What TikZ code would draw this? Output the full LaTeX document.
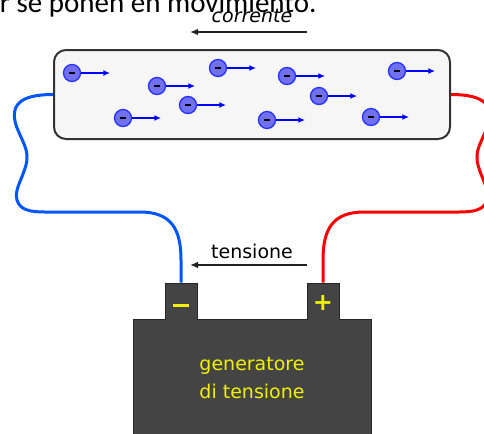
\documentclass[tikz,border=0pt]{standalone}
\usepackage{fontspec}
\setmainfont{DejaVu Sans}
\newfontfamily\calibri{Carlito}
\usetikzlibrary{arrows.meta}

\definecolor{wireblue}{RGB}{0,85,255}
\definecolor{wirered}{RGB}{255,0,0}
\definecolor{efill}{RGB}{112,112,240}
\definecolor{eedge}{RGB}{40,50,255}
\definecolor{drift}{RGB}{0,0,255}
\definecolor{boxedge}{RGB}{51,51,51}
\definecolor{boxfill}{RGB}{246,246,246}
\definecolor{genbody}{RGB}{68,68,68}
\definecolor{gentext}{RGB}{240,240,10}
\definecolor{flow}{RGB}{34,34,34}

\tikzset{every picture/.style={line width=0.75pt},
  electron/.style={circle, draw=eedge, fill=efill, line width=1pt, minimum size=12.75pt, inner sep=0pt},
  driftarrow/.style={drift, line width=1pt, -{Latex[length=5pt,width=4.5pt]}},
  flowarrow/.style={flow, line width=1.1pt, -{Latex[length=6pt,width=5pt]}},
  wire/.style={line width=2.25pt},
  terminal/.style={minimum width=24pt, minimum height=27pt, inner sep=0pt},
  sign/.style={inner sep=0pt, text=gentext, font=\fontsize{18}{18}\selectfont\bfseries},
  lbl/.style={font=\fontsize{14.25}{21}\selectfont, inner sep=0pt}
}

\begin{document}
\begin{tikzpicture}[x=0.75pt,y=0.75pt,yscale=-1,xscale=1]
\clip (0,0) rectangle (484,433);

% Text Node
\node [anchor=base east, inner sep=0pt, font=\calibri\fontsize{21.75}{26}\selectfont] (intro) at (317,12) {r se ponen en movimiento.};
% Text Node
\node [lbl, anchor=base, font=\fontsize{14.25}{21}\selectfont\itshape] (corr) at (252,22) {corrente};
%Straight Lines
\coordinate (corrA) at (307,32);
\coordinate (corrB) at (190,32);
\draw [flowarrow] (corrA) -- (corrB);

%Rounded Rect
\node [draw=boxedge, fill=boxfill, line width=1.5pt, rounded corners=9pt, minimum width=297pt, minimum height=66.75pt] (conductor) at (252,94.5) {};

%Electrons
\node [electron] (e1) at (72,73) {\rule{4.5pt}{1.6pt}};
\node [electron] (e2) at (157,86) {\rule{4.5pt}{1.6pt}};
\node [electron] (e3) at (123,118) {\rule{4.5pt}{1.6pt}};
\node [electron] (e4) at (188,105) {\rule{4.5pt}{1.6pt}};
\node [electron] (e5) at (218,68) {\rule{4.5pt}{1.6pt}};
\node [electron] (e6) at (287,76) {\rule{4.5pt}{1.6pt}};
\node [electron] (e7) at (319,96) {\rule{4.5pt}{1.6pt}};
\node [electron] (e8) at (267,120) {\rule{4.5pt}{1.6pt}};
\node [electron] (e9) at (397,71) {\rule{4.5pt}{1.6pt}};
\node [electron] (e10) at (371,117) {\rule{4.5pt}{1.6pt}};
\draw [driftarrow] (e1) -- ++(38,0);
\draw [driftarrow] (e2) -- ++(38,0);
\draw [driftarrow] (e3) -- ++(38,0);
\draw [driftarrow] (e4) -- ++(38,0);
\draw [driftarrow] (e5) -- ++(38,0);
\draw [driftarrow] (e6) -- ++(38,0);
\draw [driftarrow] (e7) -- ++(38,0);
\draw [driftarrow] (e8) -- ++(38,0);
\draw [driftarrow] (e9) -- ++(38,0);
\draw [driftarrow] (e10) -- ++(38,0);

%Battery
\draw [fill=genbody, draw=black!85] (133,440) -- (133,319) -- (165,319) -- (165,283) -- (197,283) -- (197,319) -- (307,319) -- (307,283) -- (339,283) -- (339,319) -- (371,319) -- (371,440) -- cycle ;
\node [terminal] (neg) at (181,301) {};
\node [terminal] (pos) at (323,301) {};
\node [sign] (negsign) at ([yshift=3.5pt]neg.center) {\rule{12pt}{2.4pt}};
\node [sign] (possign) at ([yshift=1.5pt]pos.center) {+};
% Text Node
\node [lbl, align=center, text=gentext] (gentxt) at (252,378) {generatore\\di tensione};

%Wires
\draw [wire, wireblue] (conductor.west) .. controls (20,94.5) and (10,105) .. (16,125) .. controls (22,142) and (30,150) .. (26,165) .. controls (22,180) and (14,190) .. (17,200) .. controls (20,210) and (30,212) .. (45,212) -- (140,212) .. controls (172,212) and (181,230) .. (181,260) -- (neg.north) ;
\draw [wire, wirered] (conductor.east) .. controls (484,94.5) and (494,105) .. (488,125) .. controls (482,142) and (474,150) .. (478,165) .. controls (482,180) and (490,190) .. (487,200) .. controls (484,210) and (474,212) .. (459,212) -- (364,212) .. controls (332,212) and (323,230) .. (323,260) -- (pos.north) ;

% Text Node
\node [lbl, anchor=base] (tens) at (252,258) {tensione};
%Straight Lines
\coordinate (tensA) at (307,265);
\coordinate (tensB) at (190,265);
\draw [flowarrow] (tensA) -- (tensB);

\end{tikzpicture}
\end{document}
